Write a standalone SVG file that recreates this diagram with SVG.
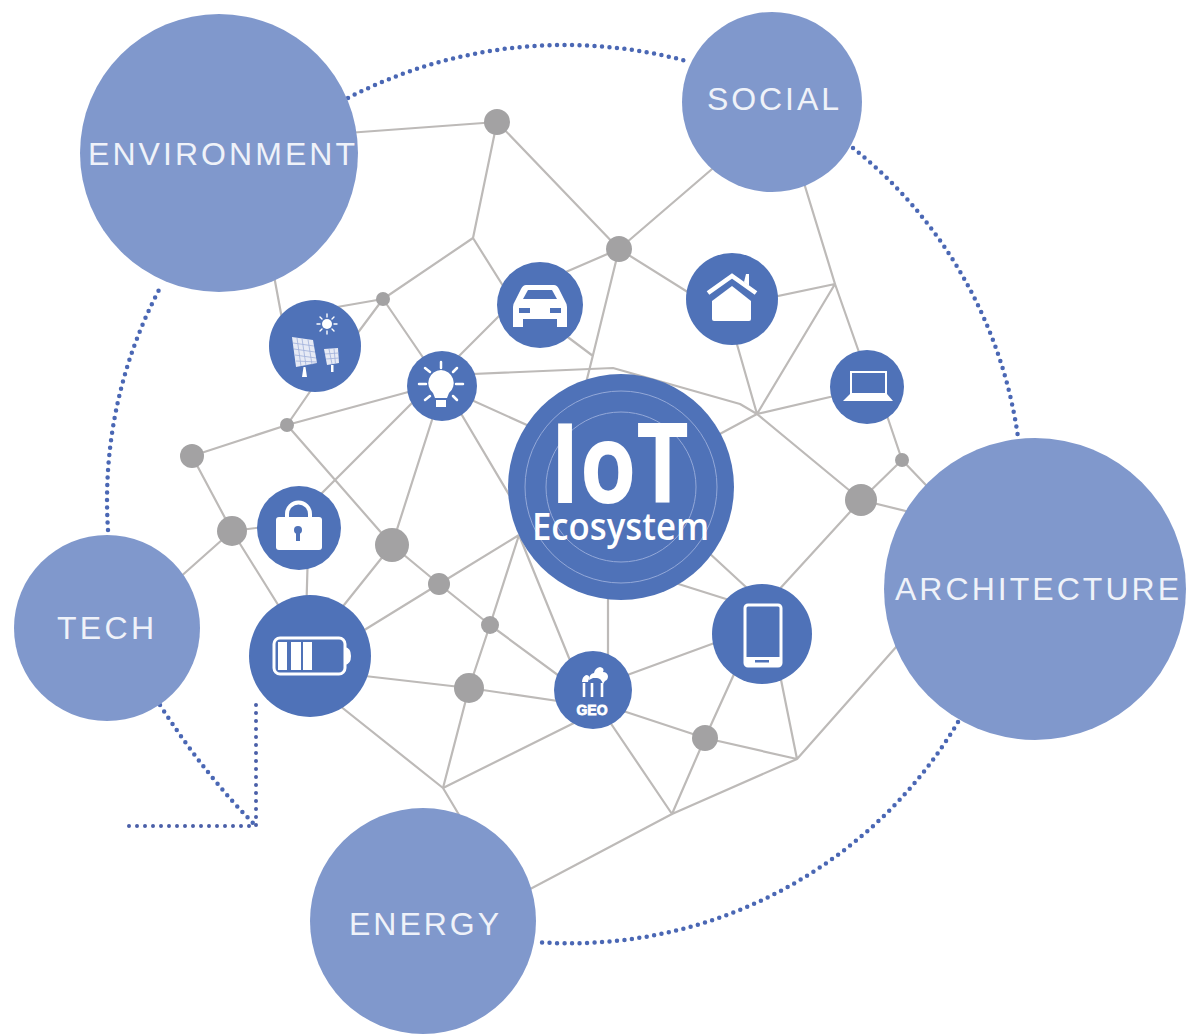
<svg xmlns="http://www.w3.org/2000/svg" width="1188" height="1036" viewBox="0 0 1188 1036">
<style>
.e{fill:none;stroke:#bdbab8;stroke-width:2.2;stroke-linejoin:round}
.d{fill:none;stroke:#4a67b4;stroke-width:4.500;stroke-linecap:round;stroke-dasharray:0 7.500}
.s{fill:none;stroke:#4a5fa8;stroke-width:4;stroke-linecap:round;stroke-dasharray:0 8}
.g{fill:#a3a2a3}
.b{fill:#8098cc}
.i{fill:#4f72b8}
.w{fill:#fff}
.ws{fill:none;stroke:#fff;stroke-width:2.500;stroke-linecap:round}
.l{fill:#eff2f9;font-family:"Liberation Sans",Arial,sans-serif;font-size:32px}
.p{fill:#e6eaf5}
.n{fill:none;stroke:#93a8d8;stroke-width:1}
</style>
<rect width="1188" height="1036" fill="#fff"/>
<g id="dotted-ring">
<path class="d" d="M348 98A470 470 0 0 1 690 62"/>
<path class="d" d="M853 148A452 452 0 0 1 1018 437"/>
<path class="d" d="M958 722A452 452 0 0 1 535 942"/>
<path class="d" d="M108 530A452 452 0 0 1 160 288"/>
<path class="d" d="M160 705Q205 775 256 826"/>
<path class="s" d="M256 705V826H125"/>
</g>
<g id="connectors">
<path class="e" d="M320 135L497 122L473 238L383 299L320 310M473 238L515 305M345 350L383 299L435 375"/>
<path class="e" d="M272 265L285 335M430 385L520 295M318 380L287 425L192 456L232 531L160 595M287 425L445 382"/>
<path class="e" d="M287 425L392 545L439 584L490 625L585 695M430 385L305 510M440 395L392 545M450 395L530 530M445 388L560 440"/>
<path class="e" d="M450 375L613 368L740 404L757 414L861 500L902 460L945 505M861 500L930 517M861 500L765 605"/>
<path class="e" d="M497 122L619 249L740 145M545 281L619 249L710 306M545 320L593 356M619 249L593 355L583 395"/>
<path class="e" d="M730 320L757 414L835 284L750 302M800 170L835 284L867 375M690 450L757 414L860 390M880 395L902 460"/>
<path class="e" d="M695 540L760 600M650 575L745 605M608 580V660M600 685L750 630"/>
<path class="e" d="M280 525L232 531L300 640M308 550L306 620M320 635L392 545M340 645L439 584M519 535L439 584M519 535L490 625L469 688L443 788M519 535L580 685"/>
<path class="e" d="M330 672L469 688L585 705M320 690L443 788L480 850M443 788L590 715M605 705L705 738L797 759M595 700L672 814L705 738L745 650M775 650L797 759L672 814L500 905M797 759L920 620"/>
</g>
<g id="node-gray">
<circle class="g" cx="497" cy="122" r="13"/><circle class="g" cx="619" cy="249" r="13"/><circle class="g" cx="383" cy="299" r="7"/><circle class="g" cx="287" cy="425" r="7"/><circle class="g" cx="192" cy="456" r="12"/><circle class="g" cx="232" cy="531" r="15"/><circle class="g" cx="392" cy="545" r="17"/><circle class="g" cx="439" cy="584" r="11"/><circle class="g" cx="490" cy="625" r="9"/><circle class="g" cx="469" cy="688" r="15"/><circle class="g" cx="705" cy="738" r="13"/><circle class="g" cx="861" cy="500" r="16"/><circle class="g" cx="902" cy="460" r="7"/>
</g>
<g id="environment"><circle class="b" cx="219" cy="153" r="139"/><text class="l" x="88" y="165" textLength="267" lengthAdjust="spacing">ENVIRONMENT</text></g>
<g id="social"><circle class="b" cx="772" cy="102" r="90"/><text class="l" x="707" y="110" textLength="132" lengthAdjust="spacing">SOCIAL</text></g>
<g id="architecture"><circle class="b" cx="1035" cy="589" r="151"/><text class="l" x="895" y="600" textLength="284" lengthAdjust="spacing">ARCHITECTURE</text></g>
<g id="energy"><circle class="b" cx="423" cy="921" r="113"/><text class="l" x="349" y="935" textLength="150" lengthAdjust="spacing">ENERGY</text></g>
<g id="tech"><circle class="b" cx="107" cy="628" r="93"/><text class="l" x="57" y="639" textLength="97" lengthAdjust="spacing">TECH</text></g>
<g id="iot">
<circle class="i" cx="621" cy="487" r="113"/>
<circle class="n" cx="621" cy="487" r="96"/>
<circle class="n" cx="621" cy="487" r="75"/>
<text x="550" y="503" font-family="'Open Sans','Liberation Sans',sans-serif" font-size="112" font-weight="700" fill="#fff" textLength="139" lengthAdjust="spacingAndGlyphs">IoT</text>
<text x="532" y="540" font-family="'Open Sans','Liberation Sans',sans-serif" font-size="37" font-weight="600" fill="#fff" textLength="177" lengthAdjust="spacingAndGlyphs">Ecosystem</text>
</g>
<g id="solar">
<circle class="i" cx="315" cy="346" r="46"/>
<path class="p" d="M292 337L313 340L317 363L296 367Z"/>
<path class="p" d="M324 349L338 348L339 363L327 365Z"/>
<path fill="none" stroke="#9fb0da" stroke-width=".8" d="M297 338L301 366M302 338.500L306 365.500M308 339.500L312 364.500M293 343L314 346M294 349L315 352M295 355L316 358M296 361L317 362M329 349L332 364M334 348.500L335.500 364M325 354L338.500 353M326 359L339 358"/>
<path class="w" d="M303.500 367h2l1.500 10h-5zM331 365h2.500v7h-2.500z"/>
<circle class="w" cx="327" cy="324" r="5"/>
<path class="ws" style="stroke-width:1.400" d="M327 314v3M327 331v3M317 324h3M334 324h3M320 317l2 2M332 329l2 2M320 331l2-2M332 319l2-2"/>
</g>
<g id="bulb">
<circle class="i" cx="442" cy="386" r="35"/>
<path class="w" d="M441 370a13 13 0 0 1 8 23l-2 5h-12l-2-5a13 13 0 0 1 8-23Z"/>
<rect class="w" x="436" y="400" width="10" height="7"/>
<path class="ws" d="M441 362v6M419 384h7M456 384h7M425 368l5 4M457 368l-4 4M425 400l5-4M457 400l-4-4"/>
</g>
<g id="car">
<circle class="i" cx="540" cy="305" r="43"/>
<path class="w" d="M526 285h28q3 0 5 4l6 12q2 3 2 6v20h-10v-8h-34v8h-10v-20q0-3 2-6l6-12q2-4 5-4Z"/>
<path class="i" d="M528 290h24l5 9h-34Z"/>
<rect class="i" x="519" y="308" width="11" height="5"/><rect class="i" x="550" y="308" width="11" height="5"/>
</g>
<g id="house">
<circle class="i" cx="732" cy="299" r="46"/>
<path class="w" d="M712 301L732 286L751 301V319Q751 321 749 321H714Q712 321 712 319Z"/>
<path fill="none" stroke="#fff" stroke-width="4.500" d="M708 293L732 276L756 293"/>
<path class="w" d="M744 282l2-8h3v12z"/>
</g>
<g id="laptop">
<circle class="i" cx="867" cy="387" r="37"/>
<rect x="851" y="372" width="35" height="22" fill="none" stroke="#fff" stroke-width="2"/>
<path class="w" d="M850 394h37l6 7h-50Z"/>
</g>
<g id="lock">
<circle class="i" cx="299" cy="528" r="42"/>
<rect class="w" x="276" y="517" width="46" height="33" rx="3"/>
<path fill="none" stroke="#fff" stroke-width="4" d="M287 517v-3a11.500 11.500 0 0 1 23 0v3"/>
<circle class="i" cx="298" cy="530" r="4"/><rect class="i" x="296" y="531" width="4" height="10"/>
</g>
<g id="battery">
<circle class="i" cx="310" cy="656" r="61"/>
<rect x="274" y="638" width="71" height="36" rx="6" fill="none" stroke="#fff" stroke-width="3"/>
<path class="w" d="M345 647q6 1 6 9t-6 9ZM278 642h9v28h-9ZM291 642h10v28h-10ZM303 642h9v28h-9Z"/>
</g>
<g id="geo">
<circle class="i" cx="593" cy="690" r="39"/>
<path class="ws" style="stroke-width:2.600;stroke-linecap:butt" d="M584 697V683M592 697V683M602 697V683"/>
<path class="w" d="M582 682q0-5 4-7 4 0 3 4-1 2-1 3zM589 680q0-6 5-7 1-5 6-6 5 1 3 5 4 0 5 4 0 4-3 5l-2 3q-2-6-6-6-2 0-4 0z"/>
<text x="592" y="715" font-family="'Liberation Sans',sans-serif" font-size="14" font-weight="700" fill="#fff" stroke="#fff" stroke-width=".8" text-anchor="middle" textLength="31" lengthAdjust="spacingAndGlyphs">GEO</text>
</g>
<g id="phone">
<circle class="i" cx="762" cy="634" r="50"/>
<rect x="745" y="605" width="36" height="61" rx="3" fill="none" stroke="#fff" stroke-width="3"/>
<rect class="w" x="745" y="657" width="36" height="9"/>
<rect class="i" x="755" y="660" width="14" height="2.500"/>
</g>
</svg>
